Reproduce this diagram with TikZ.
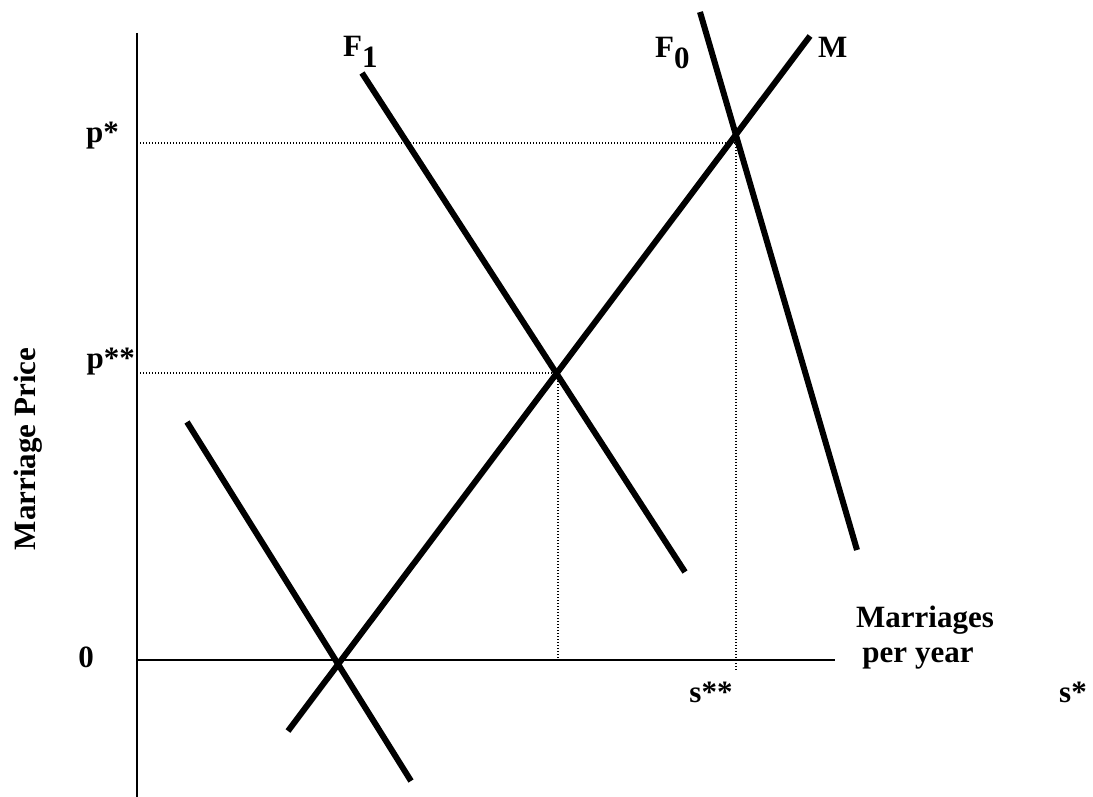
\documentclass[tikz,border=0pt]{standalone}
\usepackage{fontspec}
\setmainfont{Liberation Serif}
\usetikzlibrary{positioning}
\newcommand{\sublow}[1]{\raisebox{-11pt}{#1}}

\begin{document}
\begin{tikzpicture}[x=1pt,y=-1pt, every node/.style={font=\fontsize{31}{36}\selectfont\bfseries,inner sep=0pt},
    curve/.style={line width=6pt}, axis/.style={line width=2.5pt}, guide/.style={line width=1.2pt,dash pattern=on 1.2pt off 1.8pt}]
    \useasboundingbox[fill=white] (0,0) rectangle (1093,797);
    % axes
    \coordinate (ytop) at (137,33);
    \coordinate (ybot) at (137,797);
    \coordinate (xl) at (137,660);
    \coordinate (xr) at (835,660);
    \draw[line width=2pt] (ytop)--(ybot);
    \draw[axis] (xl)--(xr);
    % curves
    \coordinate (m0) at (288,731);   \coordinate (m1) at (810,36);
    \coordinate (fa0) at (700,12);   \coordinate (fa1) at (857,550);
    \coordinate (fb0) at (362,73);   \coordinate (fb1) at (685,572);
    \coordinate (fc0) at (187,422);  \coordinate (fc1) at (411,781);
    \foreach \x/\y in {m0/m1,fa0/fa1,fb0/fb1,fc0/fc1}{\draw[curve] (\x)--(\y);}
    % guide lines
    \coordinate (pa) at (137,143);   \coordinate (pa1) at (736,143);  \coordinate (sa) at (736,670);
    \coordinate (pb) at (137,373);   \coordinate (pb1) at (558,373);  \coordinate (sb) at (558,662);
    \draw[guide] (pa)--(pa1)--(sa);
    \draw[guide] (pb)--(pb1)--(sb);
    % labels
    \node[anchor=base east] (pstar) at (119,143) {p*};
    \node[anchor=base east] (pstarstar) at (135,368) {p**};
    \node[anchor=base] (zero) at (86,667) {0};
    \node[anchor=base] (sstarstar) at (711,702) {s**};
    \node[anchor=base west] (sstar) at (1059,702) {s*};
    \node[anchor=base west] (flabone) at (343,57) {F\sublow{1}};
    \node[anchor=base west] (flabzero) at (655,58) {F\sublow{0}};
    \node[anchor=base west] (mlab) at (818,58) {M};
    \node[anchor=base] (qlab) at (925,627) {Marriages};
    \node[anchor=base] (qlab2) at (918,662) {per year};
    \node[rotate=90,anchor=base] (plab) at (35,449) {Marriage Price};
\end{tikzpicture}
\end{document}
